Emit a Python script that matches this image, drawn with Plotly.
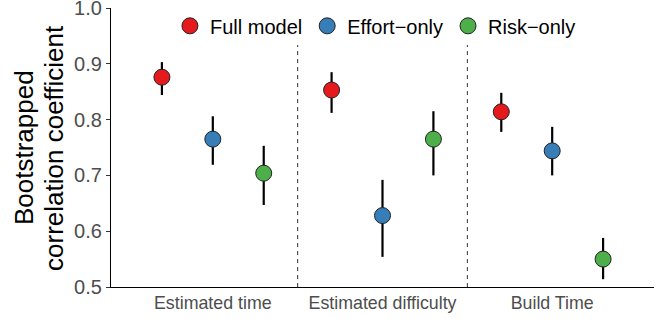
import plotly.graph_objects as go

categories = ["Estimated time", "Estimated difficulty", "Build Time"]
series_names = ["Full model", "Effort\u2212only", "Risk\u2212only"]
colors = ["#E41A1C", "#377EB8", "#4DAF4A"]

full_mean = [0.876, 0.853, 0.814]
full_lo = [0.844, 0.812, 0.778]
full_hi = [0.903, 0.885, 0.848]

effort_mean = [0.765, 0.628, 0.744]
effort_lo = [0.719, 0.554, 0.700]
effort_hi = [0.806, 0.692, 0.787]

risk_mean = [0.704, 0.765, 0.550]
risk_lo = [0.647, 0.700, 0.514]
risk_hi = [0.753, 0.815, 0.588]

means = [full_mean, effort_mean, risk_mean]
los = [full_lo, effort_lo, risk_lo]
his = [full_hi, effort_hi, risk_hi]
offsets = [-0.3, 0.0, 0.3]

FONT = "Liberation Sans, Arial, sans-serif"

fig = go.Figure()
for name, col, m, lo, hi, off in zip(series_names, colors, means, los, his, offsets):
    xs = [i + 1 + off for i in range(len(categories))]
    fig.add_trace(go.Scatter(
        x=xs, y=m, mode="markers", name=name,
        marker=dict(size=16, color=col, line=dict(color="#222222", width=1)),
        error_y=dict(type="data", symmetric=False,
                     array=[h - v for h, v in zip(hi, m)],
                     arrayminus=[v - l for v, l in zip(m, lo)],
                     color="black", thickness=2.2, width=0),
    ))

for xv in [1.5, 2.5]:
    fig.add_shape(type="line", x0=xv, x1=xv, y0=0.5, y1=1.0, xref="x", yref="y",
                  line=dict(color="#333333", width=1, dash="4px,4px"), layer="below")

fig.add_annotation(text="Bootstrapped", xref="paper", yref="paper", x=-0.161, y=0.5,
                   xanchor="center", yanchor="middle", textangle=-90, showarrow=False,
                   font=dict(family=FONT, size=26, color="black"))
fig.add_annotation(text="correlation coefficient", xref="paper", yref="paper", x=-0.106, y=0.5,
                   xanchor="center", yanchor="middle", textangle=-90, showarrow=False,
                   font=dict(family=FONT, size=26, color="black"))

fig.update_layout(
    width=661, height=319,
    margin=dict(l=111, r=7, t=8, b=32, autoexpand=False),
    plot_bgcolor="white", paper_bgcolor="white",
    showlegend=True,
    legend=dict(orientation="h", x=0.487, y=1.006, xanchor="center", yanchor="top",
                bgcolor="white", font=dict(family=FONT, size=20, color="black"),
                itemsizing="trace", tracegroupgap=0),
    xaxis=dict(range=[0.4, 3.6], tickvals=[1, 2, 3], ticktext=categories,
               showgrid=False, zeroline=False, showline=True, linecolor="black",
               linewidth=1.2, ticks="", automargin=False, ticklabeloverflow="allow",
               tickfont=dict(family=FONT, size=17.8, color="#4D4D4D")),
    yaxis=dict(range=[0.5, 1.0], tickvals=[0.5, 0.6, 0.7, 0.8, 0.9, 1.0],
               ticktext=["0.5", "0.6", "0.7", "0.8", "0.9", "1.0"],
               showgrid=False, zeroline=False, showline=True, linecolor="black",
               linewidth=1.2, ticks="outside", ticklen=4, tickcolor="#333333",
               automargin=False, ticklabeloverflow="allow",
               tickfont=dict(family=FONT, size=20, color="#4D4D4D")),
)

fig.write_html("out.html", config={"displayModeBar": False},
               post_script="document.body.style.margin='0';")
